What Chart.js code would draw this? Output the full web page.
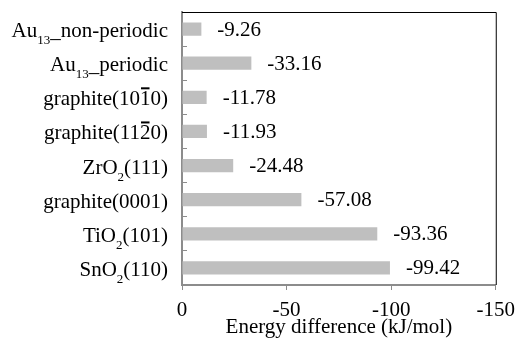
<!DOCTYPE html>
<html lang="en">
<head>
<meta charset="UTF-8">
<title>Energy difference</title>
<script src="https://cdn.jsdelivr.net/npm/chart.js"></script>
<style>
    html, body { margin: 0; padding: 0; background: #fff; }
</style>
</head>
<body>
<canvas id="chart" width="523" height="338"></canvas>
<script>
    // Подписи категорий: _{..} - нижний индекс, ^{..} - черта над цифрой
    const categories = [
        'Au_{13}_non-periodic',
        'Au_{13}_periodic',
        'graphite(10^{1}0)',
        'graphite(11^{2}0)',
        'ZrO_{2}(111)',
        'graphite(0001)',
        'TiO_{2}(101)',
        'SnO_{2}(110)'
    ];
    const values = [-9.26, -33.16, -11.78, -11.93, -24.48, -57.08, -93.36, -99.42];
    const valueLabels = ['-9.26', '-33.16', '-11.78', '-11.93', '-24.48', '-57.08', '-93.36', '-99.42'];
    const xTicks = [0, -50, -100, -150];
    const xTitle = 'Energy difference (kJ/mol)';

    const FONT = '"Liberation Serif"';
    Chart.defaults.font.family = FONT;

    // Разбор подписи на куски
    const parseLabel = (str) => {
        const parts = str.split(/(_\{[^}]*\}|\^\{[^}]*\})/).filter(s => s.length);
        return parts.map(p => {
            if (p.startsWith('_{')) return { text: p.slice(2, -1), type: 'sub' };
            if (p.startsWith('^{')) return { text: p.slice(2, -1), type: 'over' };
            return { text: p, type: 'normal' };
        });
    };

    // Рамка вокруг области графика
    const frame = {
        id: 'frame',
        beforeDatasetsDraw(chart) {
            const { ctx, chartArea: a } = chart;
            ctx.save();
            ctx.strokeStyle = '#000';
            ctx.lineWidth = 1;
            ctx.beginPath();
            ctx.moveTo(a.left, a.top + 0.5);
            ctx.lineTo(a.right + 0.5, a.top + 0.5);
            ctx.lineTo(a.right + 0.5, a.bottom);
            ctx.stroke();
            ctx.restore();
        }
    };

    // Подписи категорий с индексами и значения у столбцов
    const labelsPlugin = {
        id: 'labelsPlugin',
        afterDraw(chart) {
            const ctx = chart.ctx;
            const yScale = chart.scales.y;
            const mainFont = '21px ' + FONT;
            const subFont = '13px ' + FONT;
            ctx.save();
            ctx.fillStyle = '#000';
            ctx.textBaseline = 'alphabetic';
            ctx.textAlign = 'left';

            categories.forEach((lab, i) => {
                const cy = yScale.getPixelForTick(i);
                const base = cy + 8;
                const segs = parseLabel(lab);
                segs.forEach(s => {
                    ctx.font = s.type === 'sub' ? subFont : mainFont;
                    s.w = ctx.measureText(s.text).width;
                });
                const total = segs.reduce((acc, s) => acc + s.w, 0);
                let x = yScale.right - 14 - total;
                segs.forEach(s => {
                    if (s.type === 'sub') {
                        ctx.font = subFont;
                        ctx.fillText(s.text, x, base + 7);
                    } else {
                        ctx.font = mainFont;
                        ctx.fillText(s.text, x, base);
                        if (s.type === 'over') {
                            ctx.fillRect(x + 1, cy - 10, s.w - 2, 2);
                        }
                    }
                    x += s.w;
                });
            });

            const meta = chart.getDatasetMeta(0);
            ctx.font = mainFont;
            ctx.textBaseline = 'middle';
            meta.data.forEach((bar, i) => {
                ctx.fillText(valueLabels[i], bar.x + 16, bar.y + 1);
            });
            ctx.restore();
        }
    };

    new Chart(document.getElementById('chart'), {
        type: 'bar',
        data: {
            labels: categories,
            datasets: [{
                data: values,
                backgroundColor: '#bfbfbf',
                borderWidth: 0,
                barPercentage: 0.39,
                categoryPercentage: 1
            }]
        },
        options: {
            indexAxis: 'y',
            responsive: false,
            devicePixelRatio: 1,
            animation: false,
            layout: { padding: { top: 12, right: 21, left: 0, bottom: 0 } },
            plugins: {
                legend: { display: false },
                tooltip: { enabled: false }
            },
            scales: {
                x: {
                    min: -150,
                    max: 0,
                    reverse: true,
                    afterBuildTicks: (scale) => {
                        scale.ticks = xTicks.map(v => ({ value: v }));
                    },
                    afterFit: (scale) => { scale.height = 53; },
                    grid: {
                        drawOnChartArea: false,
                        drawTicks: true,
                        tickLength: 5,
                        color: '#8c8c8c',
                        lineWidth: 1
                    },
                    border: { color: '#8c8c8c', width: 2 },
                    ticks: {
                        color: '#000',
                        padding: 8,
                        maxRotation: 0,
                        font: { family: FONT, size: 21 }
                    },
                    title: {
                        display: true,
                        text: xTitle,
                        color: '#000',
                        padding: { top: 0, bottom: 0 },
                        font: { family: FONT, size: 21, lineHeight: 1 }
                    }
                },
                y: {
                    afterFit: (scale) => { scale.width = 182; },
                    grid: {
                        drawOnChartArea: false,
                        drawTicks: true,
                        tickLength: -5,
                        offset: true,
                        color: '#8c8c8c',
                        lineWidth: 1
                    },
                    border: { color: '#8c8c8c', width: 2 },
                    ticks: { display: false }
                }
            }
        },
        plugins: [frame, labelsPlugin]
    });
</script>
</body>
</html>
